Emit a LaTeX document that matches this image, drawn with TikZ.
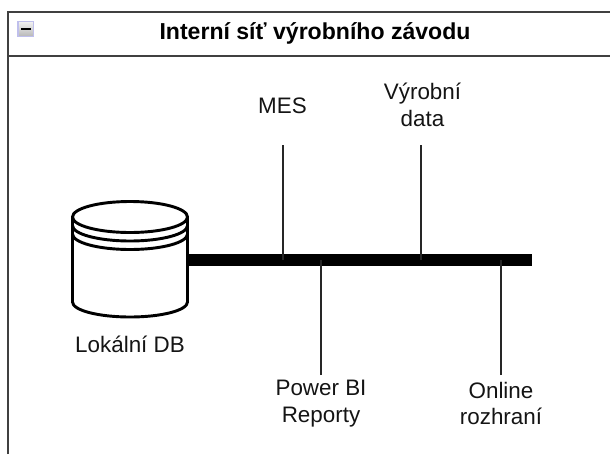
\documentclass[tikz,border=0pt]{standalone}
\usepackage{fontspec}
\setmainfont{Liberation Sans}
\usetikzlibrary{positioning}

\tikzset{
  label text/.style = {font=\fontsize{16.8}{20}\selectfont, align=center, text=black!92},
  stem/.style = {line width=1.1pt, black!85},
  frame/.style = {line width=1.5pt, black!75},
  db line/.style = {line width=2.2pt, black},
}

\begin{document}
\begin{tikzpicture}[x=0.75pt, y=-0.75pt]
\useasboundingbox (0,0) rectangle (610,454);
\clip (0,0) rectangle (610,454);

% frame
\draw [frame] (8,454) -- (8,12) -- (610,12);
\draw [frame] (8,56) -- (610,56);
\node[font=\fontsize{17.3}{20}\selectfont\bfseries] (title) at (315,33) {Interní síť výrobního závodu};

% collapse icon
\draw [black!30!blue!25!white, top color=black!5, bottom color=black!28, line width=0.9pt] (18,21.5) rectangle (33.5,36.5);
\draw [black, line width=1.2pt] (21,29) -- (30.5,29);

% database
\draw [db line, fill=white] (72.5,217) arc (180:360:57.5 and 15.5) -- (187.5,302) arc (0:180:57.5 and 15) -- cycle;
\draw [db line] (72.5,217) arc (180:0:57.5 and 15.5);
\draw [db line] (72.5,225.5) arc (180:0:57.5 and 15.5);
\draw [db line] (72.5,234) arc (180:0:57.5 and 15.5);
\node[label text] (db) at (130,344) {Lokální DB};

% bus
\coordinate (busStart) at (188,260);
\coordinate (busEnd) at (532,260);
\draw [line width=9.6pt] (busStart) -- (busEnd);

\node[label text] (mes) at (282.5,106) {MES};
\node[label text] (data) at (422.5,105) {Výrobní\\data};
\node[label text] (bi) at (321,403.5) {Power BI\\Reporty};
\node[label text] (online) at (501,403.5) {Online\\rozhraní};

\coordinate (mesEnd) at (283,145);
\coordinate (dataEnd) at (421,145);
\coordinate (biEnd) at (321,375);
\coordinate (onlineEnd) at (501,375);

\draw [stem] (mesEnd) -- (mesEnd |- busStart);
\draw [stem] (dataEnd) -- (dataEnd |- busStart);
\draw [stem] (biEnd) -- (biEnd |- busStart);
\draw [stem] (onlineEnd) -- (onlineEnd |- busStart);
\end{tikzpicture}
\end{document}
